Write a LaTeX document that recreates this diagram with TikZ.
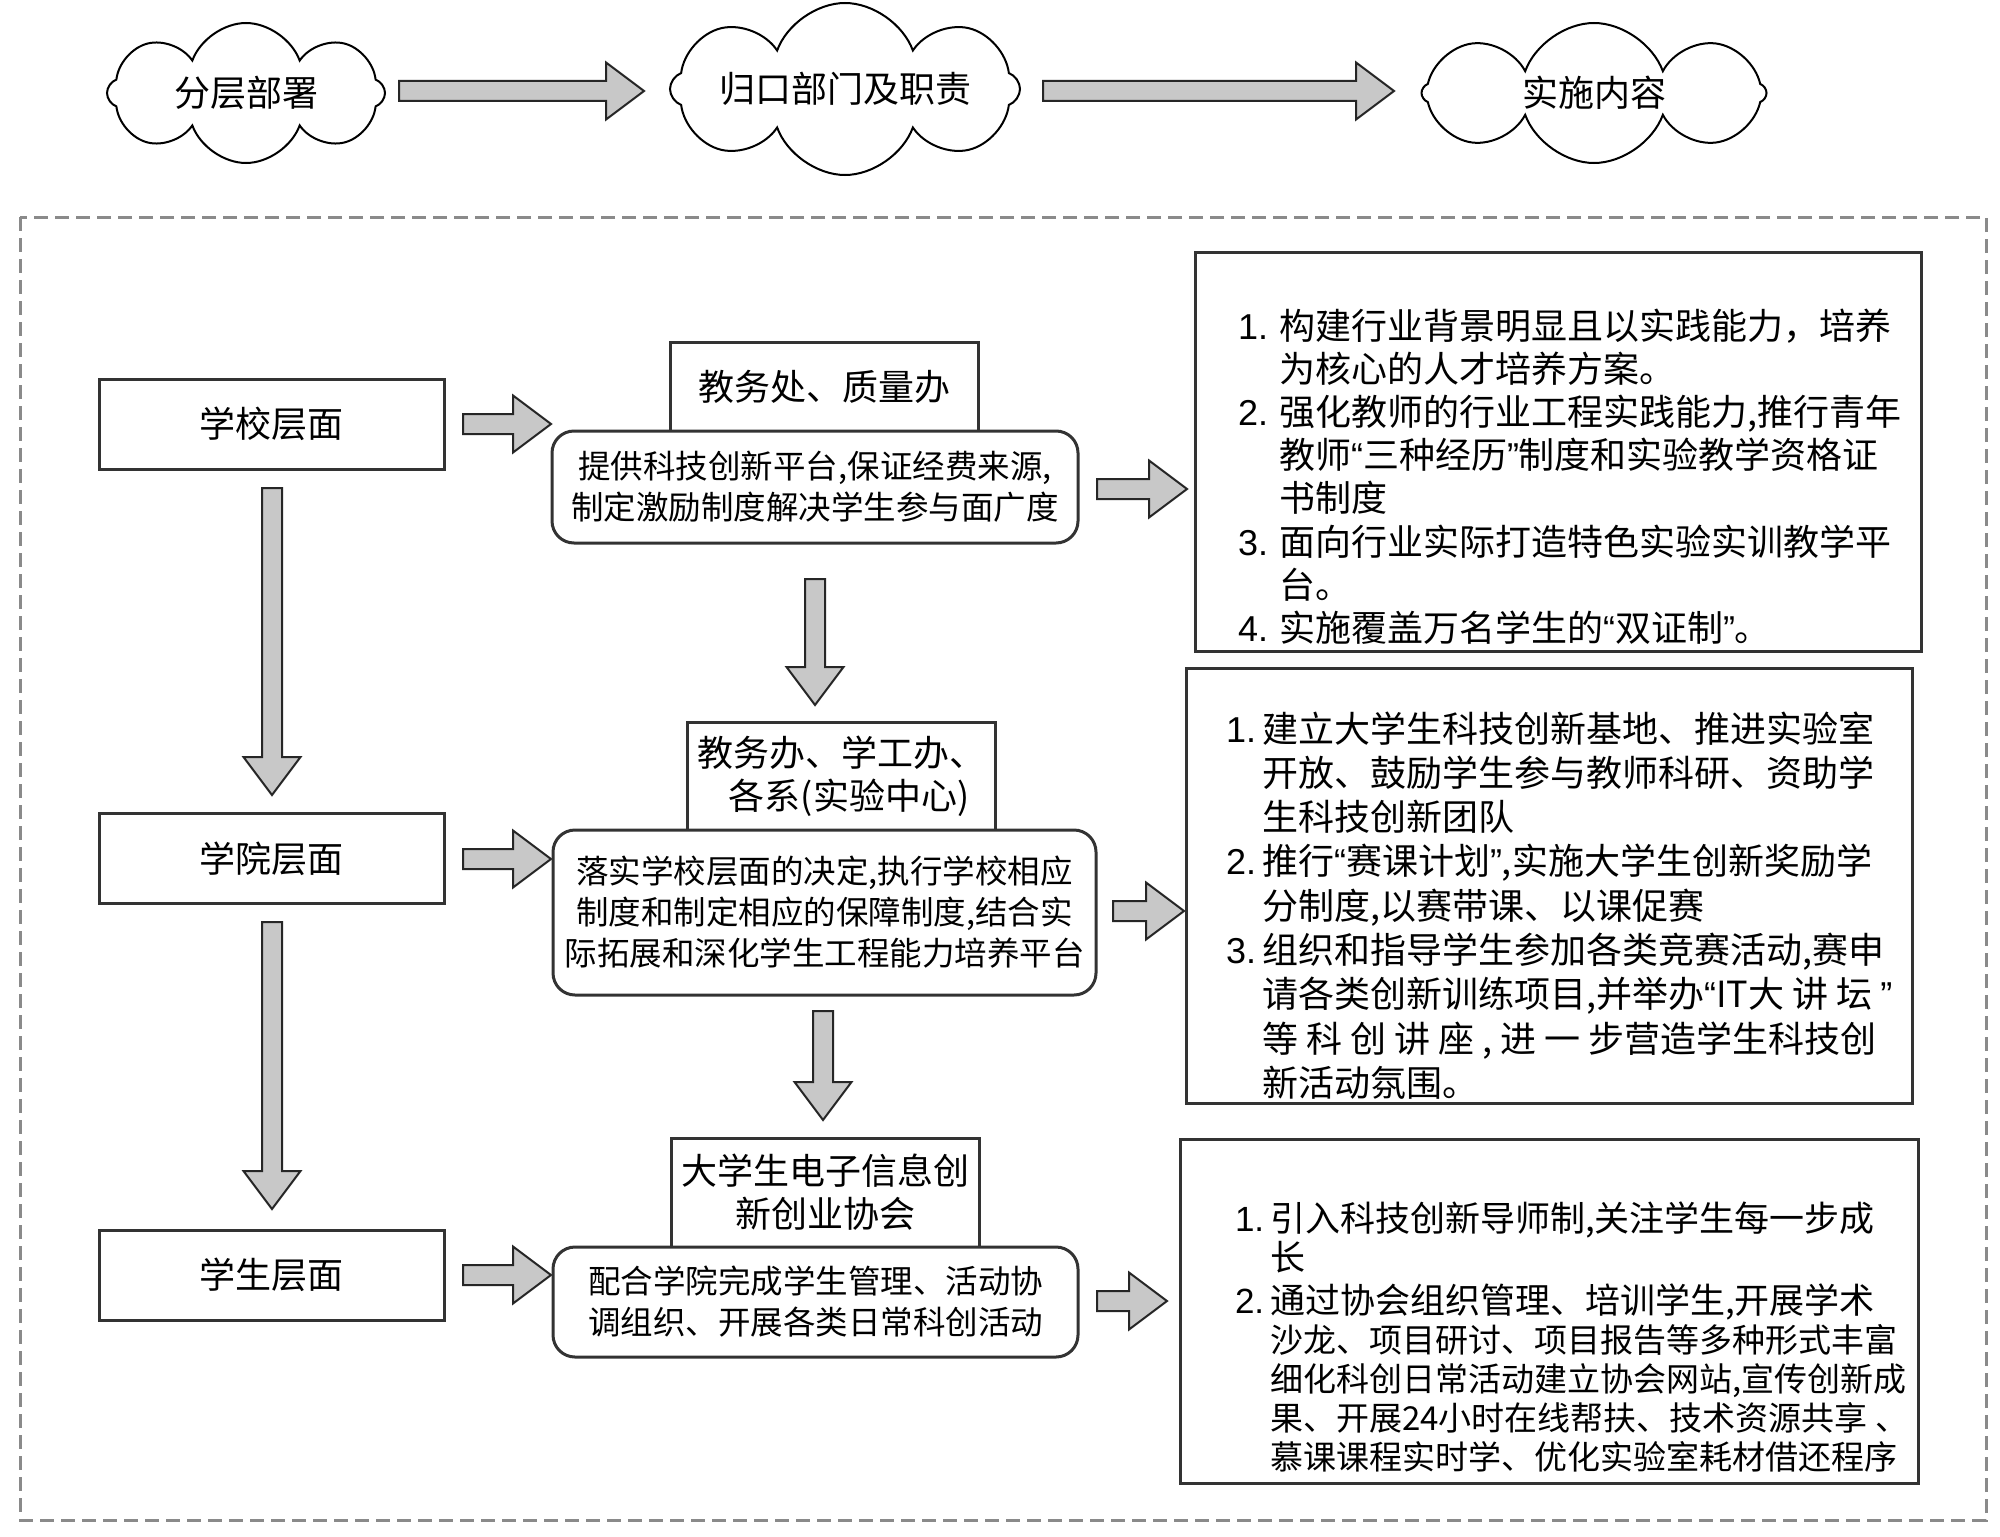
\documentclass[tikz,border=0pt]{standalone}
\usepackage{fontspec}
\setmainfont{Noto Sans CJK SC}
\newfontfamily\lat{Liberation Sans}
\usetikzlibrary{shapes.symbols}
\definecolor{bd}{HTML}{333333}
\definecolor{af}{HTML}{C8C8C8}
\definecolor{dg}{HTML}{8A8A8A}
\newcommand\fbig{\fontsize{18}{21.5}\selectfont\lineskiplimit=-100pt\relax}
\newcommand\fmid{\fontsize{16.25}{20.5}\selectfont\lineskiplimit=-100pt\relax}
\newcommand\qo{{\lat “}}
\newcommand\qc{{\lat ”}}
\newcommand\RArr[3]{\draw[blk] (#1,{#3-10}) -- ({#2-38},{#3-10}) -- ({#2-38},{#3-28.5}) -- (#2,#3) -- ({#2-38},{#3+28.5}) -- ({#2-38},{#3+10}) -- (#1,{#3+10}) -- cycle;}
\newcommand\DArr[3]{\draw[blk] ({#1-10},#2) -- ({#1-10},{#3-38}) -- ({#1-28.5},{#3-38}) -- (#1,#3) -- ({#1+28.5},{#3-38}) -- ({#1+10},{#3-38}) -- ({#1+10},#2) -- cycle;}
\begin{document}
\begin{tikzpicture}[x=0.5pt,y=-0.5pt,
  box/.style={draw=bd, line width=1.5pt, fill=white, inner sep=0pt, align=center},
  rbox/.style={box, rounded corners=11pt},
  blk/.style={draw=black!85, fill=af, line width=1pt, line join=miter},
  cl/.style={cloud, cloud puffs=8, cloud puff arc=140, cloud ignores aspect, draw=black, line width=1pt, inner sep=0pt, font=\fbig},
  txt/.style={inner sep=0pt, outer sep=0pt}]
\useasboundingbox (0,0) rectangle (2000,1536);
\fill[white] (0,0) rectangle (2000,1536);

% header clouds
\node[cl, minimum width=139pt, minimum height=70pt] (c1) at (246,93) {分层部署};
\node[cl, minimum width=175pt, minimum height=86pt] (c2) at (845,89) {归口部门及职责};
\node[cl, minimum width=172.5pt, minimum height=70pt] (c3) at (1594,93) {实施内容};
\RArr{399}{644}{91}
\RArr{1043}{1394}{91}

% dashed frame
\draw[dg, line width=1.5pt, dash pattern=on 7pt off 3.5pt] (20,217) rectangle (1986,1520);

% left column
\node[box, font=\fbig, minimum width=172.5pt, minimum height=45pt] (L1) at (271.5,424) {学校层面};
\node[box, font=\fbig, minimum width=172.5pt, minimum height=45pt] (L2) at (271.5,858.5) {学院层面};
\node[box, font=\fbig, minimum width=172.5pt, minimum height=45pt] (L3) at (271.5,1275) {学生层面};
\DArr{272}{488}{795}
\DArr{272}{922}{1209}
\RArr{463}{551}{424}
\RArr{463}{551}{859}
\RArr{463}{551}{1275}

% middle column
\node[box, font=\fbig, minimum width=154pt, minimum height=44.5pt] (T1) at (824,386.5) {教务处、质量办};
\node[rbox, font=\fmid, minimum width=263pt, minimum height=56pt] (R1) at (815,487) {提供科技创新平台,保证经费来源,\\制定激励制度解决学生参与面广度};
\DArr{815}{579}{705}
\node[box, font=\fbig, minimum width=154pt, minimum height=54pt] (T2) at (841,776) {教务办、学工办、\\\hspace*{8pt}各系(实验中心)};
\node[rbox, font=\fmid, minimum width=271.5pt, minimum height=82.5pt] (R2) at (824.5,912.5) {落实学校层面的决定,执行学校相应\\制度和制定相应的保障制度,结合实\\际拓展和深化学生工程能力培养平台};
\DArr{823}{1011}{1120}
\node[box, font=\fbig, minimum width=154pt, minimum height=54.5pt] (T3) at (825,1192.5) {大学生电子信息创\\新创业协会};
\node[rbox, font=\fmid, minimum width=262.5pt, minimum height=55pt] (R3) at (815.5,1302) {配合学院完成学生管理、活动协\\调组织、开展各类日常科创活动};
\RArr{1097}{1187}{489}
\RArr{1113}{1184}{911}
\RArr{1097}{1167}{1301}

% right column
\node[box, minimum width=363pt, minimum height=199.5pt] (B1) at (1558,451.5) {};
\node[box, minimum width=363pt, minimum height=217.5pt] (B2) at (1549,885.5) {};
\node[box, minimum width=369pt, minimum height=172pt] (B3) at (1549,1311) {};

\node[txt, anchor=base west] (B1t) at (1238,339) {\begin{minipage}[t]{450pt}\fontsize{18}{21.6}\selectfont\lineskiplimit=-100pt\raggedright
\makebox[20.5pt][l]{\lat 1.}构建行业背景明显且以实践能力，培养\\
\hspace*{20.5pt}为核心的人才培养方案。\\
\makebox[20.5pt][l]{\lat 2.}强化教师的行业工程实践能力,推行青年\\
\hspace*{20.5pt}教师\qo 三种经历\qc 制度和实验教学资格证\\
\hspace*{20.5pt}书制度\\
\makebox[20.5pt][l]{\lat 3.}面向行业实际打造特色实验实训教学平\\
\hspace*{20.5pt}台。\\
\makebox[20.5pt][l]{\lat 4.}实施覆盖万名学生的\qo 双证制\qc 。
\end{minipage}};

\node[txt, anchor=base west] (B2t) at (1226,742) {\begin{minipage}[t]{450pt}\fontsize{18}{22.15}\selectfont\lineskiplimit=-100pt\raggedright
\makebox[18pt][l]{\lat 1.}建立大学生科技创新基地、推进实验室\\
\hspace*{18pt}开放、鼓励学生参与教师科研、资助学\\
\hspace*{18pt}生科技创新团队\\
\makebox[18pt][l]{\lat 2.}推行\qo 赛课计划\qc ,实施大学生创新奖励学\\
\hspace*{18pt}分制度,以赛带课、以课促赛\\
\makebox[18pt][l]{\lat 3.}组织和指导学生参加各类竞赛活动,赛申\\
\hspace*{18pt}请各类创新训练项目,并举办\qo IT大 讲 坛 \qc\\
\hspace*{18pt}等 科 创 讲 座 , 进 一 步营造学生科技创\\
\hspace*{18pt}新活动氛围。
\end{minipage}};

\node[txt, anchor=base west] (B3t) at (1235,1231) {\begin{minipage}[t]{450pt}\fontsize{17.5}{19.5}\selectfont\lineskiplimit=-100pt\raggedright
\makebox[17.5pt][l]{\lat 1.}引入科技创新导师制,关注学生每一步成\\
\hspace*{17.5pt}长\\[2pt]
\makebox[17.5pt][l]{\lat 2.}通过协会组织管理、培训学生,开展学术\\
\hspace*{17.5pt}{\fontsize{16.5}{19.5}\selectfont 沙龙、项目研讨、项目报告等多种形式丰富}\\
\hspace*{17.5pt}{\fontsize{16.5}{19.5}\selectfont 细化科创日常活动建立协会网站,宣传创新成}\\
\hspace*{17.5pt}{\fontsize{16.5}{19.5}\selectfont 果、开展24小时在线帮扶、技术资源共享 、}\\
\hspace*{17.5pt}{\fontsize{16.5}{19.5}\selectfont 慕课课程实时学、优化实验室耗材借还程序}
\end{minipage}};
\end{tikzpicture}
\end{document}
